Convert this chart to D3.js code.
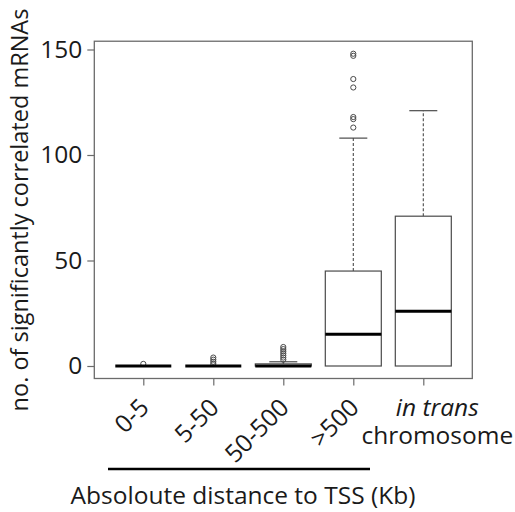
<!DOCTYPE html>
<html>
<head>
<meta charset="utf-8">
<script src="https://cdn.jsdelivr.net/npm/d3@7"></script>
<style>
  body { margin: 0; background: #fff; }
  text { font-family: 'Open Sans', sans-serif; }
</style>
</head>
<body>
<div id="chart"></div>
<script>
// box stats
var categories = ['0-5', '5-50', '50-500', '>500', 'in trans'];
var q1 = [0, 0, 0, 0, 0];
var medians = [0, 0, 0, 15, 26];
var q3 = [0, 0, 1, 45, 71];
var whisker_hi = [0, 0, 2, 108, 121];
var outliers = [[1], [1, 2, 3, 4], [3, 4, 5, 6, 7, 8, 9], [113, 117, 118, 132, 136, 147, 148], []];
var y_ticks = [0, 50, 100, 150];

var chart_width = 515;
var chart_height = 512;
var font_size = 24.5;

var svg = d3
  .select('#chart')
  .append('svg')
  .attr('width', chart_width)
  .attr('height', chart_height);

// x: one band per group, R style 0.5..5.5 plus 4%
var x_scale = d3
  .scaleBand()
  .domain(categories)
  .range([108.3, 458.3])
  .paddingInner(0.2)
  .paddingOuter(0.1);
var step = x_scale.step();
var y_scale = d3.scaleLinear().domain([0, 150]).range([366, 49.5]);

var data_max = d3.max(outliers.map(function(o) { return d3.max(o) || 0; }).concat(whisker_hi));
var y_lo = y_scale(-data_max * 0.04);
var y_hi = y_scale(data_max * 1.04);
var x_lo = x_scale(categories[0]) + x_scale.bandwidth() / 2 - step * 0.7;
var x_hi = x_scale(categories[4]) + x_scale.bandwidth() / 2 + step * 0.7;

var frame_col = '#6b6b6b';
var box_col = '#4a4a4a';

// frame
svg.append('rect')
  .attr('x', x_lo).attr('y', y_hi)
  .attr('width', x_hi - x_lo).attr('height', y_lo - y_hi)
  .attr('fill', 'none').attr('stroke', frame_col).attr('stroke-width', 1.3);

// y axis
var y_axis = d3.axisLeft(y_scale).tickValues(y_ticks).tickSize(7).tickPadding(5);
var gy = svg.append('g').attr('transform', 'translate(' + x_lo + ',0)').call(y_axis);
gy.select('.domain').remove();
gy.selectAll('line').attr('stroke', frame_col).attr('stroke-width', 1.2);
gy.selectAll('text').attr('font-size', font_size).attr('fill', '#1a1a1a')
  .attr('font-family', "'Open Sans', sans-serif");

// x ticks
var x_axis = d3.axisBottom(d3.scalePoint().domain(categories).range([
  x_scale(categories[0]) + x_scale.bandwidth() / 2,
  x_scale(categories[4]) + x_scale.bandwidth() / 2
])).tickSize(7).tickFormat('');
var gx = svg.append('g').attr('transform', 'translate(0,' + y_lo + ')').call(x_axis);
gx.select('.domain').remove();
gx.selectAll('line').attr('stroke', frame_col).attr('stroke-width', 1.2);

var cx = function(i) { return x_scale(categories[i]) + x_scale.bandwidth() / 2; };
var bw = x_scale.bandwidth();

var groups = svg.selectAll('g.box')
  .data(categories)
  .enter()
  .append('g')
  .attr('class', 'box');

// whiskers (dashed)
groups.append('line')
  .attr('x1', function(d, i) { return cx(i); })
  .attr('x2', function(d, i) { return cx(i); })
  .attr('y1', function(d, i) { return y_scale(q3[i]); })
  .attr('y2', function(d, i) { return y_scale(whisker_hi[i]); })
  .attr('stroke', box_col).attr('stroke-width', 1.1)
  .attr('stroke-dasharray', '3,2');

// whisker caps
groups.append('line')
  .attr('x1', function(d, i) { return cx(i) - bw / 4; })
  .attr('x2', function(d, i) { return cx(i) + bw / 4; })
  .attr('y1', function(d, i) { return y_scale(whisker_hi[i]); })
  .attr('y2', function(d, i) { return y_scale(whisker_hi[i]); })
  .attr('stroke', box_col).attr('stroke-width', 1.2);

// boxes
groups.append('rect')
  .attr('x', function(d) { return x_scale(d); })
  .attr('y', function(d, i) { return y_scale(q3[i]); })
  .attr('width', bw)
  .attr('height', function(d, i) { return y_scale(q1[i]) - y_scale(q3[i]); })
  .attr('fill', '#fff').attr('stroke', box_col).attr('stroke-width', 1.2);

// outliers
groups.each(function(d, i) {
  d3.select(this).selectAll('circle')
    .data(outliers[i])
    .enter()
    .append('circle')
    .attr('cx', cx(i))
    .attr('cy', function(v) { return y_scale(v); })
    .attr('r', 2.6)
    .attr('fill', 'none').attr('stroke', box_col).attr('stroke-width', 1);
});

// medians
groups.append('line')
  .attr('x1', function(d) { return x_scale(d); })
  .attr('x2', function(d) { return x_scale(d) + bw; })
  .attr('y1', function(d, i) { return y_scale(medians[i]); })
  .attr('y2', function(d, i) { return y_scale(medians[i]); })
  .attr('stroke', '#000').attr('stroke-width', 3);

// rotated category labels (first four)
categories.slice(0, 4).forEach(function(c, i) {
  var ax = cx(i) + 7;
  var ay = 409;
  svg.append('text')
    .text(c)
    .attr('transform', 'translate(' + ax + ',' + ay + ') rotate(-45)')
    .attr('text-anchor', 'end')
    .attr('font-size', font_size)
    .attr('fill', '#1a1a1a');
});

// last label, two lines, sits a bit right of its tick
svg.append('text')
  .text('in trans')
  .attr('x', cx(4) + 14).attr('y', 416)
  .attr('text-anchor', 'middle')
  .attr('font-size', font_size)
  .attr('font-style', 'italic')
  .attr('fill', '#1a1a1a');
svg.append('text')
  .text('chromosome')
  .attr('x', cx(4) + 14).attr('y', 444)
  .attr('text-anchor', 'middle')
  .attr('font-size', font_size)
  .attr('fill', '#1a1a1a');

// bracket line under the distance groups
svg.append('line')
  .attr('x1', 108).attr('x2', 370)
  .attr('y1', 469).attr('y2', 469)
  .attr('stroke', '#000').attr('stroke-width', 2.5);

svg.append('text')
  .text('Absoloute distance to TSS (Kb)')
  .attr('x', 243).attr('y', 504)
  .attr('text-anchor', 'middle')
  .attr('font-size', font_size)
  .attr('fill', '#1a1a1a');

// y label
svg.append('text')
  .text('no. of significantly correlated mRNAs')
  .attr('transform', 'translate(28,210) rotate(-90)')
  .attr('text-anchor', 'middle')
  .attr('font-size', 23.5)
  .attr('fill', '#1a1a1a');
</script>
</body>
</html>
